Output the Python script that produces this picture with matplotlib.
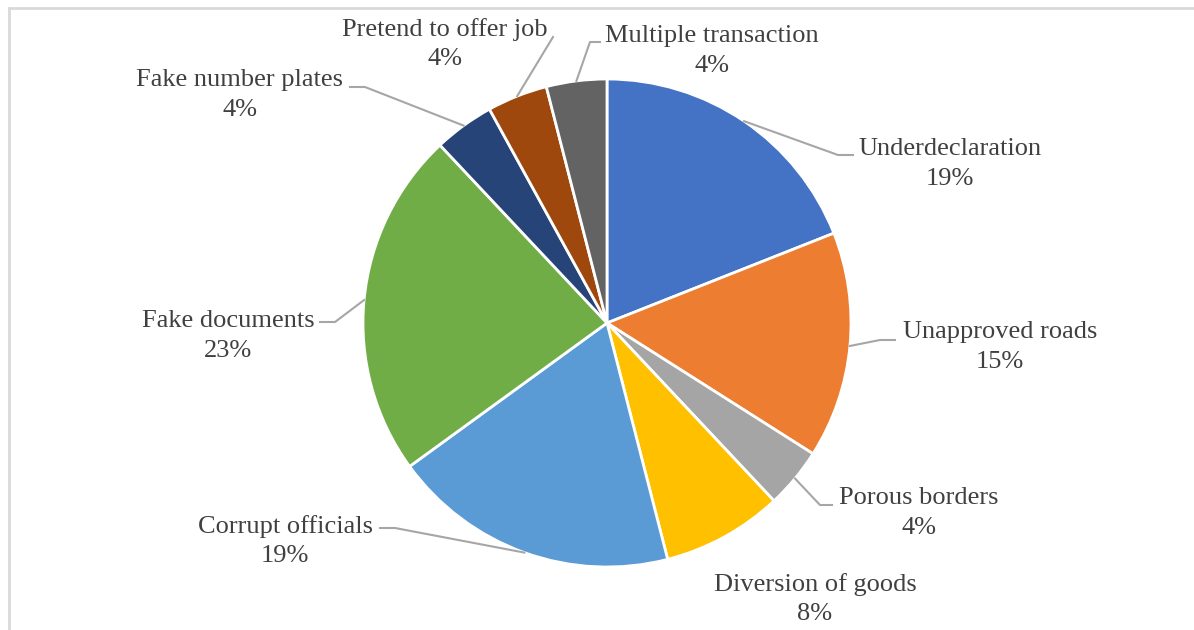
import numpy as np
import matplotlib.pyplot as plt

categories = ["Underdeclaration", "Unapproved roads", "Porous borders",
              "Diversion of goods", "Corrupt officials", "Fake documents",
              "Fake number plates", "Pretend to offer job",
              "Multiple transaction"]
shares = [19, 15, 4, 8, 19, 23, 4, 4, 4]
colors = ["#4472C4", "#ED7D31", "#A5A5A5", "#FFC000", "#5B9BD5",
          "#70AD47", "#264478", "#9E480E", "#636363"]

# label block centres and leader elbows (pixel layout, y up)
label_pos = [(950, 466), (1000, 283), (919, 117), (815, 31), (285, 89),
             (228, 294), (240, 535), (445, 586), (712, 579)]
elbows = [((838, 475), (853, 475)), ((880, 290), (895, 290)),
          ((820, 125), (832, 125)), None, ((395, 102), (380, 102)),
          ((335, 308), (320, 308)), ((365, 543), (350, 543)),
          ((553, 593), (553, 593)), ((590, 588), (600, 588))]

cx, cy, r = 607, 307, 244

fig = plt.figure(figsize=(11.94, 6.3), dpi=100)
ax = fig.add_axes([0, 0, 1, 1])

ax.pie(shares, colors=colors, startangle=90, counterclock=False,
       center=(cx, cy), radius=r, frame=True,
       wedgeprops=dict(edgecolor="white", linewidth=2))
ax.set_xlim(0, 1194)
ax.set_ylim(0, 630)
ax.set_aspect("equal")
ax.axis("off")

# frame lines (top and left)
ax.plot([9, 1194], [622, 622], color="#D9D9D9", lw=2, clip_on=False)
ax.plot([9, 9], [0, 622], color="#D9D9D9", lw=2, clip_on=False)

total = sum(shares)
cum = 0
for name, val, pos, elb in zip(categories, shares, label_pos, elbows):
    mid = (cum + val / 2) / total * 2 * np.pi
    cum += val
    wx = cx + r * np.sin(mid)
    wy = cy + r * np.cos(mid)
    if elb is not None:
        xs = [wx, elb[0][0], elb[1][0]]
        ys = [wy, elb[0][1], elb[1][1]]
        ax.plot(xs, ys, color="#A6A6A6", lw=1.5)
    ax.text(pos[0], pos[1], f"{name}\n{val}%", ha="center", va="center",
            fontsize=19, family="Liberation Serif", color="#404040",
            linespacing=1.45)

fig.savefig("out.png", dpi=100)
